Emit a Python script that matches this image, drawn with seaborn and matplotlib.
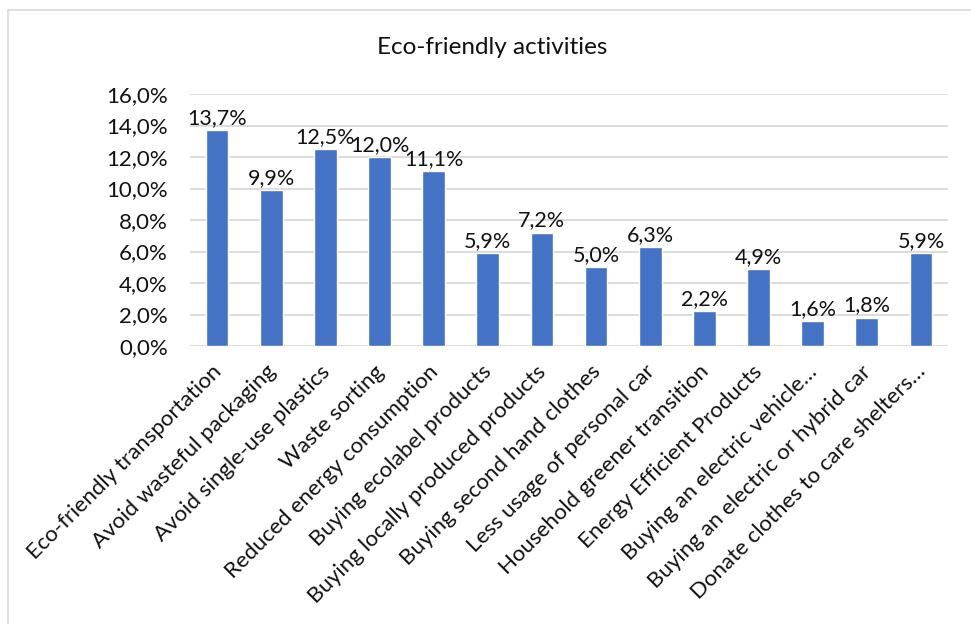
import matplotlib
matplotlib.use("Agg")
import matplotlib.pyplot as plt
import matplotlib.transforms as mtransforms
import seaborn as sns
import pandas as pd
from matplotlib.patches import Rectangle

categories = [
    "Eco-friendly transportation",
    "Avoid wasteful packaging",
    "Avoid single-use plastics",
    "Waste sorting",
    "Reduced energy consumption",
    "Buying ecolabel products",
    "Buying locally produced products",
    "Buying second hand clothes",
    "Less usage of personal car",
    "Household greener transition",
    "Energy Efficient Products",
    "Buying an electric vehicle\u2026",
    "Buying an electric or hybrid car",
    "Donate clothes to care shelters\u2026",
]
values = [13.7, 9.9, 12.5, 12.0, 11.1, 5.9, 7.2, 5.0, 6.3, 2.2, 4.9, 1.6, 1.8, 5.9]
yticks = [0, 2, 4, 6, 8, 10, 12, 14, 16]
title = "Eco-friendly activities"

sns.set_theme(style="white")
plt.rcParams["font.family"] = ["Lato", "DejaVu Sans"]

df = pd.DataFrame({"activity": categories, "share": values})

W, H = 971, 624
fig = plt.figure(figsize=(W / 100, H / 100), dpi=100)
ax = fig.add_axes([190 / W, (H - 346) / H, (948 - 190) / W, (346 - 94) / H])

sns.barplot(data=df, x="activity", y="share", color="#4472C4", width=0.42,
            saturation=1, ax=ax, zorder=3)

tc = "#111111"
ax.set_ylim(0, 16)
ax.set_xlim(-0.5, len(categories) - 0.5)
ax.set_yticks(yticks)
ax.set_yticklabels([f"{v:.1f}%".replace(".", ",") for v in yticks], fontsize=16, color=tc)
ax.set_xticks(range(len(categories)))
ax.set_xticklabels(categories, rotation=45, ha="right", rotation_mode="anchor",
                   fontsize=16, color=tc)
ax.tick_params(axis="x", length=0, pad=9)
ax.tick_params(axis="y", length=0, pad=16)
offset = mtransforms.ScaledTranslation(-6 / 100, -3 / 100, fig.dpi_scale_trans)
for lab in ax.get_xticklabels():
    lab.set_transform(lab.get_transform() + offset)
ax.set_xlabel("")
ax.set_ylabel("")
ax.grid(axis="y", color="#D9D9D9", linewidth=1.3, zorder=0)
for s in ax.spines.values():
    s.set_visible(False)

for i, v in enumerate(values):
    ax.annotate(f"{v:.1f}%".replace(".", ","), (i, v), xytext=(0, 1.5),
                textcoords="offset points", ha="center", va="bottom",
                fontsize=15.5, color=tc, zorder=4)

fig.text(492 / W, 1 - 47 / H, title, ha="center", va="center", fontsize=17.5, color=tc)

# chart frame
fig.patches.append(Rectangle((8 / W, -0.05), 1.1, 1 - 10 / H + 0.05, transform=fig.transFigure,
                             fill=False, edgecolor="#D9D9D9", linewidth=1.2))

fig.savefig("out.png", dpi=100)
